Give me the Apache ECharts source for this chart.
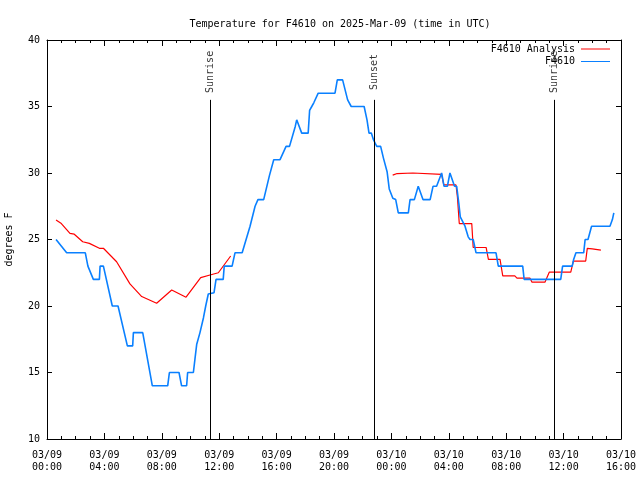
<!DOCTYPE html>
<html><head><meta charset="utf-8">
<script src="https://cdn.jsdelivr.net/npm/echarts@6/dist/echarts.min.js"></script>
<style>html,body{margin:0;padding:0;background:#fff}#c{width:640px;height:480px}</style>
</head><body><div id="c"></div><script>
// hours since 03/09 00:00 UTC
const obsHours = [0.63,1.37,2.67,2.85,3.23,3.65,3.7,3.93,4.55,4.95,5.6,5.97,6.02,6.67,7.34,8.41,8.53,9.2,9.38,9.73,9.8,10.2,10.31,10.43,10.66,10.9,11.06,11.24,11.36,11.64,11.78,12.28,12.35,12.9,13.1,13.6,14.15,14.5,14.7,15.1,15.5,15.8,16.24,16.66,16.9,17.3,17.4,17.75,18.2,18.3,18.45,18.6,18.9,20.07,20.23,20.6,20.95,21.2,22.1,22.3,22.44,22.6,22.75,22.98,23.25,23.45,23.7,23.85,24.1,24.3,24.48,25.18,25.3,25.6,25.87,26.0,26.2,26.7,26.9,27.15,27.5,27.67,27.9,28.08,28.2,28.4,28.55,28.7,28.8,29.13,29.35,29.48,29.7,29.9,31.29,31.45,33.15,33.25,35.8,35.93,36.6,36.7,36.86,37.4,37.5,37.7,37.95,39.23,39.4,39.5];
const obsTemps = [25,24,24,23,22,22,23,23,20,20,17,17,18,18,14,14,15,15,14,14,15,15,16,17.1,18,19.1,20,20.9,21,21,22,22,23,23,24,24,26,27.5,28,28,29.8,31,31,32,32,33.5,34,33,33,34.7,35,35.3,36,36,37,37,35.5,35,35,34,33,33,32.5,32,32,31.1,30.1,28.8,28.1,28,27,27,28,28,29,29,28,28,29,29,30,29,29,30,30,29,29,27.7,26.7,26,25.2,25,25,24,24,23,23,22,22,23,23,23.5,24,24,25,25,26,26,26.5,27];
const anaHours = [0.63,1.0,1.6,1.9,2.49,2.95,3.65,3.93,4.85,5.78,6.6,7.64,8.69,9.69,10.71,11.36,11.94,12.8,13.0,24.09,24.4,24.5,25.5,25.55,27.5,27.65,28.5,28.6,28.73,29.6,29.7,30.6,30.76,31.57,31.76,32.6,32.75,33.66,33.8,34.7,35.0,36.5,36.68,37.54,37.65,38.0,38.6];
const anaTemps = [26.46,26.2,25.46,25.4,24.83,24.71,24.34,24.34,23.33,21.66,20.71,20.21,21.2,20.66,22.13,22.33,22.5,23.76,null,29.84,29.96,30,30,29.9,29.9,29.1,29.1,28.2,26.2,26.2,24.4,24.4,23.5,23.5,22.26,22.26,22.09,22.09,21.79,21.79,22.54,22.54,23.38,23.38,24.33,24.3,24.2];
const sunHours = [11.38, 22.79, 35.35];
const sunNames = ['Sunrise', 'Sunset', 'Sunrise'];
const xTickDates = ['03/09','03/09','03/09','03/09','03/09','03/09','03/10','03/10','03/10','03/10','03/10'];
const xTickTimes = ['00:00','04:00','08:00','12:00','16:00','20:00','00:00','04:00','08:00','12:00','16:00'];
const yTicks = [10,15,20,25,30,35,40];

const FONT = 'DejaVu Sans Mono';
const chart = echarts.init(document.getElementById('c'), null, {renderer:'canvas'});
const obsData = obsHours.map((h,i)=>[h, obsTemps[i]]);
const anaData = anaHours.map((h,i)=>[h, anaTemps[i]===null ? '-' : anaTemps[i]]);
const lineTop = 35.5, labelY = 37.6;

const xCommon = {type:'value', min:0, max:40, interval:4,
  axisLine:{show:true, onZero:false, lineStyle:{color:'#000', width:1}},
  axisTick:{show:true, inside:true, length:6, lineStyle:{color:'#000'}},
  minorTick:{show:true, splitNumber:4, length:3, lineStyle:{color:'#000'}},
  splitLine:{show:false}, minorSplitLine:{show:false}};
const yCommon = {type:'value', min:10, max:40, interval:5,
  axisLine:{show:true, onZero:false, lineStyle:{color:'#000', width:1}},
  axisTick:{show:true, inside:true, length:5, lineStyle:{color:'#000'}},
  splitLine:{show:false}};

chart.setOption({
  animation:false,
  backgroundColor:'#fff',
  title:{text:'Temperature for F4610 on 2025-Mar-09 (time in UTC)', left:335, textAlign:'center', top:14,
    textStyle:{fontFamily:FONT, fontSize:10, fontWeight:'normal', color:'#000'}},
  grid:{left:47, right:19, top:40, bottom:41, containLabel:false, outerBoundsMode:'none'},
  legend:[
    {data:['F4610 Analysis'], right:30, top:44, padding:0, align:'right', orient:'vertical', icon:'rect', itemWidth:29, itemHeight:1,
     selectedMode:false, textStyle:{fontFamily:FONT, fontSize:10, color:'#000', padding:[0,1,0,0]}},
    {data:['F4610'], right:30, top:56.5, padding:0, align:'right', orient:'vertical', icon:'rect', itemWidth:29, itemHeight:1,
     selectedMode:false, textStyle:{fontFamily:FONT, fontSize:10, color:'#000', padding:[0,1,0,0]}}
  ],
  xAxis:[
    Object.assign({}, xCommon, {position:'bottom',
      axisLabel:{show:true, margin:10, fontFamily:FONT, fontSize:10, color:'#000', lineHeight:12,
        showMinLabel:true, showMaxLabel:true, hideOverlap:false,
        formatter:(v)=>{const i=Math.round(v/4); return xTickDates[i]+'\n'+xTickTimes[i];}}}),
    Object.assign({}, xCommon, {position:'top', axisLabel:{show:false}})
  ],
  yAxis:[
    Object.assign({}, yCommon, {position:'left', name:'degrees F', nameLocation:'middle', nameGap:33, nameRotate:90,
      nameTextStyle:{fontFamily:FONT, fontSize:10, color:'#000'},
      axisLabel:{show:true, margin:7, fontFamily:FONT, fontSize:10, color:'#000', showMinLabel:true, showMaxLabel:true,
        formatter:(v)=> yTicks.includes(v) ? String(v) : ''}}),
    Object.assign({}, yCommon, {position:'right', axisLabel:{show:false}})
  ],
  series:[
    {name:'F4610 Analysis', type:'line', xAxisIndex:0, yAxisIndex:0, data:anaData, showSymbol:false, symbol:'none',
      connectNulls:false, color:'#ff0000', lineStyle:{color:'#ff0000', width:1.2}, z:2},
    {name:'F4610', type:'line', xAxisIndex:0, yAxisIndex:0, data:obsData, showSymbol:false, symbol:'none',
      color:'#0a80ff', lineStyle:{color:'#0a80ff', width:1.6}, z:3},
    {name:'sun', type:'scatter', xAxisIndex:0, yAxisIndex:0, symbolSize:0, silent:true, z:4,
      data:sunHours.map((h,i)=>[h, labelY, sunNames[i]]),
      label:{show:true, position:'inside', rotate:90, formatter:(p)=>p.value[2], fontFamily:FONT, fontSize:10, color:'#000'},
      markLine:{silent:true, symbol:['none','none'], label:{show:false}, lineStyle:{color:'#000', width:1, type:'solid'},
        data:sunHours.map(h=>[{coord:[h, lineTop]},{coord:[h, 10]}])}}
  ]
});
</script></body></html>
